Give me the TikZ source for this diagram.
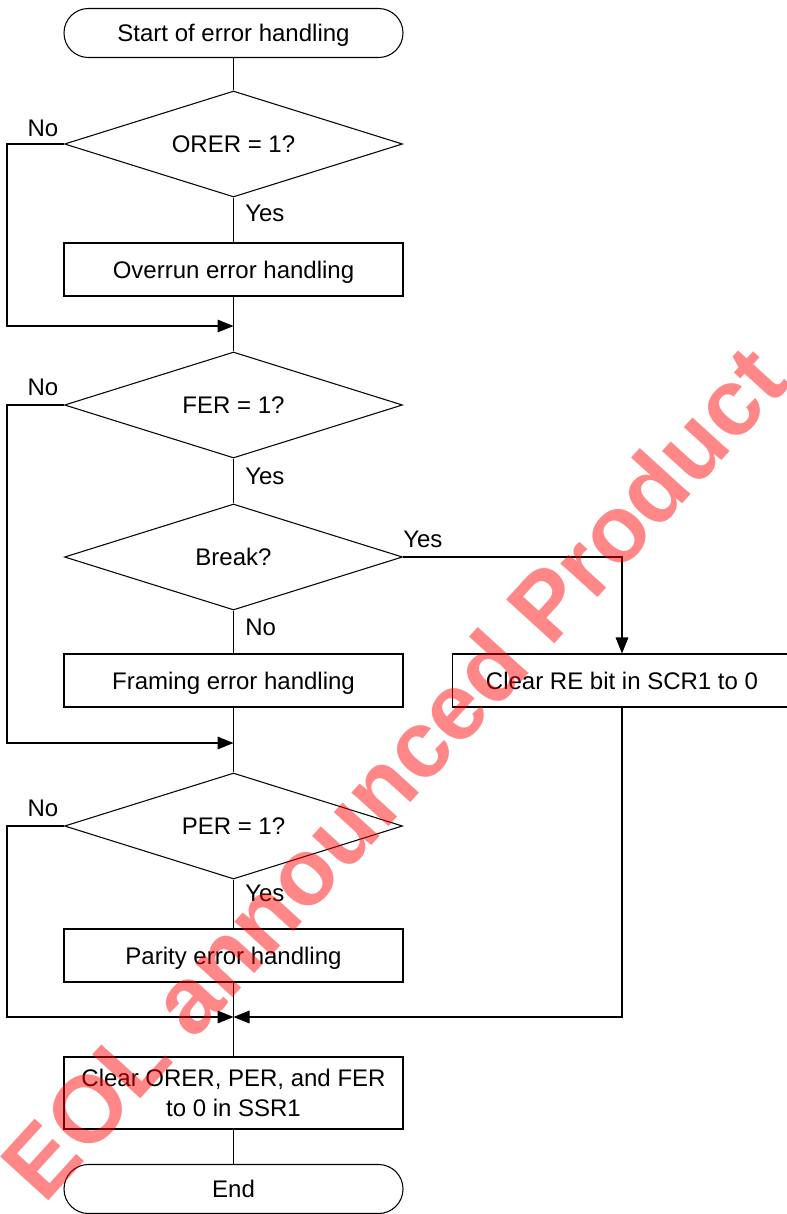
\documentclass[tikz,border=0pt]{standalone}
\usepackage{fontspec}
\setmainfont{Liberation Sans}
\usetikzlibrary{shapes.geometric,arrows.meta}
\begin{document}
\begin{tikzpicture}[x=0.75pt,y=-0.75pt,
  every node/.style={font=\fontsize{18pt}{22.5pt}\selectfont},
  line/.style={draw=black,line width=0.8pt},
  arr/.style={line,-{Triangle[length=12pt,width=9.5pt]}},
  fixh/.style={text height=16.9pt,text depth=4pt},
  term/.style={line,fixh,rectangle,rounded corners=18.3pt,minimum width=254.25pt,minimum height=36.75pt,inner sep=0pt},
  proc/.style={line,fixh,rectangle,minimum width=254.25pt,minimum height=39.75pt,inner sep=0pt},
  proctwo/.style={line,rectangle,minimum width=254.25pt,minimum height=54pt,inner sep=0pt,align=center},
  dec/.style={line,fixh,diamond,aspect=3.19,minimum width=253.5pt,minimum height=79.5pt,inner sep=0pt},
  lbl/.style={fixh,inner sep=0pt},
  wmark/.style={inner sep=0pt,text=red,text opacity=0.47,font=\fontsize{71pt}{85pt}\selectfont\bfseries}
]
\useasboundingbox (0,0) rectangle (787,1214);
\clip (0,0) rectangle (787,1214);

\node[term] (start) at (233.5,33) {Start of error handling};
\node[dec] (d1) at (233.5,144) {ORER = 1?};
\node[proc] (b1) at (233.5,269.5) {Overrun error handling};
\coordinate (j1) at (233.5,326);
\node[dec] (d2) at (233.5,405) {FER = 1?};
\node[dec] (d3) at (233.5,557) {Break?};
\node[proc] (b2) at (233.5,680.5) {Framing error handling};
\node[proc] (b3) at (622,680.5) {Clear RE bit in SCR1 to 0};
\coordinate (j2) at (233.5,743);
\node[dec] (d4) at (233.5,826) {PER = 1?};
\node[proc] (b4) at (233.5,955.5) {Parity error handling};
\coordinate (j3) at (233.5,1017);
\node[proctwo] (b5) at (233.5,1093) {Clear ORER, PER, and FER\\to 0 in SSR1};
\node[term] (end) at (233.5,1189) {End};

% labels
\node[lbl] (n1) at (43,128) {No};
\node[lbl,anchor=west] (y1) at (245,213) {Yes};
\node[lbl] (n2) at (43,387) {No};
\node[lbl,anchor=west] (y2) at (245,476) {Yes};
\node[lbl,anchor=west] (y3) at (403,539) {Yes};
\node[lbl,anchor=west] (n3) at (245,627) {No};
\node[lbl] (n4) at (43,808) {No};
\node[lbl,anchor=west] (y4) at (245,893) {Yes};

% connectors
\draw[line] (start) -- (d1);
\draw[line] (d1) -- (b1);
\draw[arr] (d1.west) -- ++(-57,0) |- (j1);
\draw[line] (b1) -- (d2);
\draw[line] (d2) -- (d3);
\draw[arr] (d2.west) -- ++(-57,0) |- (j2);
\draw[line] (d3) -- (b2);
\draw[arr] (d3.east) -| (b3.north);
\draw[line] (b2) -- (d4);
\draw[line] (d4) -- (b4);
\draw[arr] (d4.west) -- ++(-57,0) |- (j3);
\draw[arr] (b3.south) |- (j3);
\draw[line] (b4) -- (b5);
\draw[line] (b5) -- (end);

% watermark
\node[wmark,rotate=47.7] (wm) at (393,772) {EOL announced Product};
\end{tikzpicture}
\end{document}
